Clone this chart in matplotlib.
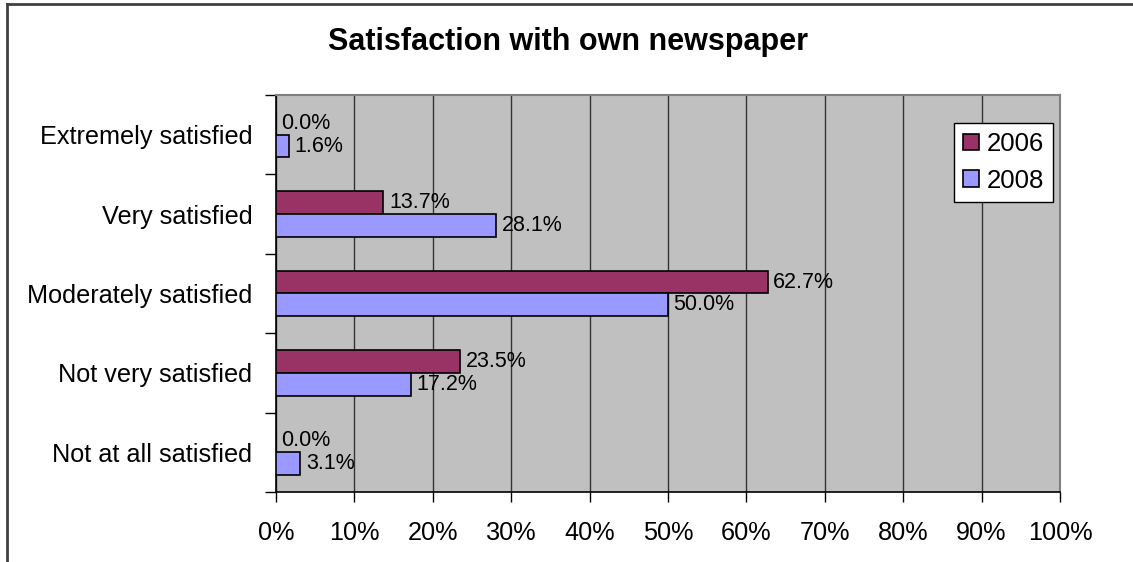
import matplotlib
matplotlib.use('Agg')
import matplotlib.pyplot as plt
from matplotlib.lines import Line2D
from matplotlib.ticker import MultipleLocator, FuncFormatter
import numpy as np

plt.rcParams['font.family'] = ['Liberation Sans', 'DejaVu Sans']

categories = ['Extremely satisfied', 'Very satisfied', 'Moderately satisfied',
              'Not very satisfied', 'Not at all satisfied']
v2006 = [0.0, 13.7, 62.7, 23.5, 0.0]
v2008 = [1.6, 28.1, 50.0, 17.2, 3.1]
series = ['2006', '2008']
colors = ['#993366', '#9999FF']

fig = plt.figure(figsize=(11.33, 5.62), dpi=100)
ax = fig.add_axes([276/1133, 1 - 492/562, 784/1133, 397/562])
ax.set_facecolor('#C0C0C0')

y = np.arange(len(categories))
h = 0.285
b1 = ax.barh(y - h/2, v2006, height=h, color=colors[0], edgecolor='black', linewidth=1.2, label=series[0], zorder=3)
b2 = ax.barh(y + h/2, v2008, height=h, color=colors[1], edgecolor='black', linewidth=1.2, label=series[1], zorder=3)

for bars, vals in ((b1, v2006), (b2, v2008)):
    for bar, v in zip(bars, vals):
        ax.annotate('%.1f%%' % v, (bar.get_width(), bar.get_y() + bar.get_height()/2),
                    xytext=(4, 0), textcoords='offset points', va='center', ha='left',
                    fontsize=15.5, zorder=4)

ax.set_xlim(0, 100)
ax.set_ylim(len(categories) - 0.5, -0.5)
ax.xaxis.set_major_locator(MultipleLocator(10))
ax.xaxis.set_major_formatter(FuncFormatter(lambda v, p: '%d%%' % v))
ax.grid(axis='x', color='#333333', linewidth=1.0, zorder=1)
ax.set_axisbelow(True)

ax.set_yticks(y)
ax.set_yticklabels(categories)
ax.set_yticks(np.arange(-0.5, len(categories), 1), minor=True)
ax.tick_params(axis='y', which='major', length=0, pad=17, labelsize=18.2)
ax.tick_params(axis='y', which='minor', length=8, width=1, color='black')
ax.tick_params(axis='x', which='major', length=7, width=1, pad=14, labelsize=18.2)

ax.spines['left'].set_color('black')
ax.spines['bottom'].set_color('black')
ax.spines['left'].set_linewidth(1.2)
ax.spines['bottom'].set_linewidth(1.2)
ax.spines['top'].set_color('#808080')
ax.spines['right'].set_color('#808080')
ax.spines['top'].set_linewidth(1.5)
ax.spines['right'].set_linewidth(1.5)

leg = ax.legend(loc='upper left', bbox_to_anchor=(954/1133, 1 - 123/562),
                bbox_transform=fig.transFigure, fontsize=18.5, frameon=True,
                fancybox=False, framealpha=1, edgecolor='black',
                handlelength=0.62, handleheight=0.62, handletextpad=0.3,
                labelspacing=0.5, borderpad=0.35, borderaxespad=0)
leg.get_frame().set_linewidth(1.0)
leg.set_zorder(5)

fig.text(0.501, 1 - 42/562, 'Satisfaction with own newspaper', ha='center', va='center',
         fontsize=22, fontweight='bold')

# chart border (only top and left are visible in the picture)
fig.add_artist(Line2D([7/1133, 1], [1 - 4/562, 1 - 4/562], transform=fig.transFigure,
                      color='#404040', linewidth=2))
fig.add_artist(Line2D([7/1133, 7/1133], [0, 1 - 4/562], transform=fig.transFigure,
                      color='#404040', linewidth=2))

fig.savefig('out.png', dpi=100)
